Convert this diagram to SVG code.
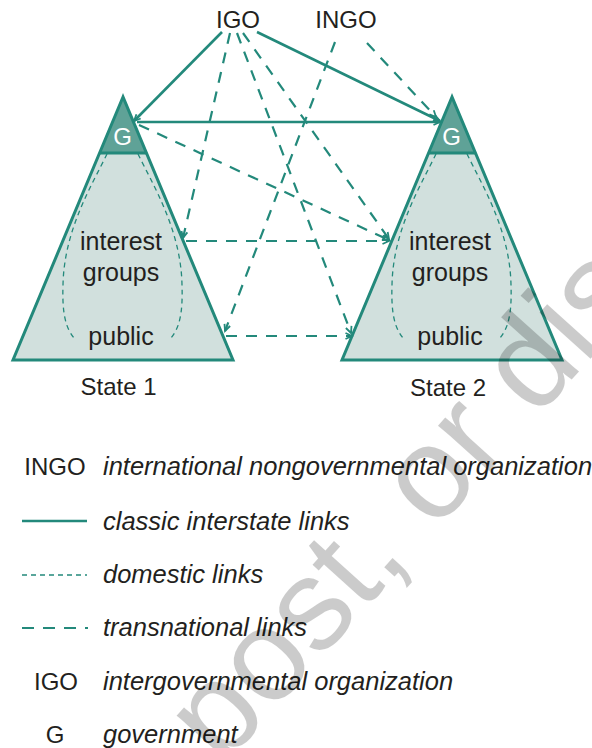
<svg xmlns="http://www.w3.org/2000/svg" width="592" height="748" viewBox="0 0 592 748">
<style>
.lbl{font-family:"Liberation Sans",Arial,sans-serif;fill:#231f20;}
.tri{stroke:#23897b;stroke-width:3;stroke-linejoin:miter;}
.body{fill:#d1e0dd;}
.gov{fill:#5fa297;}
.gtxt{font-family:"Liberation Sans",Arial,sans-serif;fill:#ffffff;font-size:24px;text-anchor:middle;}
.solid{stroke:#23897b;stroke-width:2.6;fill:none;}
.trans{stroke:#23897b;stroke-width:2.2;fill:none;stroke-dasharray:11 9;}
.dom{stroke:#23897b;stroke-width:1.3;fill:none;stroke-dasharray:5 4;}
.it{font-style:italic;font-size:25.5px;}
</style>
<defs>
<marker id="ah" viewBox="-10 -6 12 12" refX="0" refY="0" markerWidth="12" markerHeight="12" markerUnits="userSpaceOnUse" orient="auto">
<path d="M-6.5,-3 L0,0 L-6.5,3" fill="none" stroke="#23897b" stroke-width="1.8"/>
</marker>
</defs>

<g id="igo"><text class="lbl" x="238" y="28" font-size="24" text-anchor="middle">IGO</text></g>
<g id="ingo"><text class="lbl" x="346" y="28" font-size="24" text-anchor="middle">INGO</text></g>

<g id="state1">
<polygon class="body" points="123,97 13,360 233,360"/>
<polygon class="gov" points="123,97 99.6,153 146.4,153"/>
<polygon class="tri" fill="none" points="123,97 13,360 233,360"/>
<line class="tri" x1="99.6" y1="153" x2="146.4" y2="153"/>
<text class="gtxt" x="122.5" y="145">G</text>
<path class="dom" d="M107,154 C92,185 64,230 63,285 C62,315 66,328 74,338"/>
<path class="dom" d="M138,154 C153,185 181,230 182,285 C183,315 179,328 171,338"/>
<text class="lbl" x="121" y="250" font-size="25" text-anchor="middle">interest</text>
<text class="lbl" x="121" y="281" font-size="25" text-anchor="middle">groups</text>
<text class="lbl" x="121" y="345" font-size="25" text-anchor="middle">public</text>
<text class="lbl" x="118.5" y="395" font-size="24" text-anchor="middle">State 1</text>
</g>

<g id="state2">
<polygon class="body" points="452,97 342,360 562,360"/>
<polygon class="gov" points="452,97 428.6,153 475.4,153"/>
<polygon class="tri" fill="none" points="452,97 342,360 562,360"/>
<line class="tri" x1="428.6" y1="153" x2="475.4" y2="153"/>
<text class="gtxt" x="451.5" y="145">G</text>
<path class="dom" d="M436,154 C421,185 393,230 392,285 C391,315 395,328 403,338"/>
<path class="dom" d="M467,154 C482,185 510,230 511,285 C512,315 508,328 500,338"/>
<text class="lbl" x="450" y="250" font-size="25" text-anchor="middle">interest</text>
<text class="lbl" x="450" y="281" font-size="25" text-anchor="middle">groups</text>
<text class="lbl" x="450" y="345" font-size="25" text-anchor="middle">public</text>
<text class="lbl" x="448" y="396" font-size="24" text-anchor="middle">State 2</text>
</g>

<g id="connectors">
<line class="solid" x1="222" y1="32" x2="134" y2="121" marker-end="url(#ah)"/>
<line class="solid" x1="257" y1="32" x2="440" y2="121" marker-end="url(#ah)"/>
<line class="solid" x1="137" y1="122" x2="440" y2="122" marker-end="url(#ah)"/>
<line class="trans" x1="230" y1="33" x2="183" y2="238" marker-end="url(#ah)"/>
<line class="trans" x1="237" y1="33" x2="351" y2="333" marker-end="url(#ah)"/>
<line class="trans" x1="243" y1="33" x2="389" y2="239" marker-end="url(#ah)"/>
<line class="trans" x1="139" y1="125" x2="389" y2="240" marker-end="url(#ah)"/>
<line class="trans" x1="335" y1="42" x2="225" y2="331" marker-end="url(#ah)"/>
<line class="trans" x1="367" y1="43" x2="436" y2="117" marker-end="url(#ah)"/>
<line class="trans" x1="186" y1="241" x2="389" y2="241" marker-end="url(#ah)"/>
<line class="trans" x1="226" y1="336" x2="352" y2="336" marker-end="url(#ah)"/>
</g>

<g id="legend">
<text class="lbl" x="55" y="475" font-size="24" text-anchor="middle">INGO</text>
<text class="lbl it" x="103" y="475">international nongovernmental organization</text>
<line class="solid" x1="22" y1="521" x2="87" y2="521"/>
<text class="lbl it" x="103" y="530">classic interstate links</text>
<line class="dom" x1="22" y1="575" x2="87" y2="575"/>
<text class="lbl it" x="103" y="583">domestic links</text>
<line class="trans" x1="22" y1="628" x2="88" y2="628" style="stroke-dasharray:12 9"/>
<text class="lbl it" x="103" y="636">transnational links</text>
<text class="lbl" x="56" y="690" font-size="24" text-anchor="middle">IGO</text>
<text class="lbl it" x="103" y="690">intergovernmental organization</text>
<text class="lbl" x="55" y="743" font-size="24" text-anchor="middle">G</text>
<text class="lbl it" x="103" y="743">government</text>
</g>

<g id="watermark" opacity="0.2">
<text x="0" y="0" transform="translate(222,768) rotate(-48)" font-family="Liberation Sans, Arial, sans-serif" font-size="130" fill="#000">post, or dis</text>
</g>
</svg>
